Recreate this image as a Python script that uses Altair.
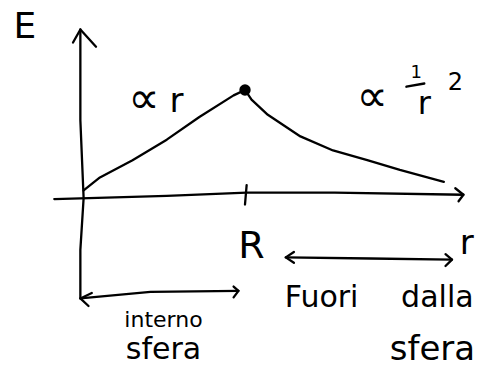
import altair as alt
import pandas as pd

# Field of a uniformly charged sphere: E grows like r inside, falls like 1/r^2 outside.
# r in units of R, E in units of E(R).
r_in = [0.01, 0.11, 0.31, 0.52, 0.72, 0.93, 1.00]
e_in = [0.07, 0.19, 0.35, 0.54, 0.75, 0.95, 1.00]
r_out = [1.00, 1.04, 1.14, 1.34, 1.54, 1.75, 1.95, 2.22]
e_out = [1.00, 0.91, 0.77, 0.57, 0.44, 0.35, 0.26, 0.15]

# hand-drawn guide strokes: (name, r list, E list)
strokes = [
    ("asse_E", [-0.01, -0.01, 0.01, -0.01, -0.01], [1.56, 0.72, 0.00, -0.48, -0.93]),
    ("punta_E", [-0.055, -0.01, 0.086], [1.44, 1.56, 1.40]),
    ("asse_r", [-0.17, 0.52, 1.01, 1.55, 2.34], [-0.01, 0.02, 0.05, 0.05, 0.03]),
    ("punta_r", [2.29, 2.34, 2.31], [0.09, 0.03, -0.03]),
    ("tacca_R", [1.01, 1.00], [0.12, -0.06]),
    ("freccia_int", [-0.01, 0.42, 0.96], [-0.93, -0.87, -0.86]),
    ("punta_int_sx", [0.06, -0.01, 0.04], [-0.88, -0.93, -1.00]),
    ("punta_int_dx", [0.93, 0.96, 0.93], [-0.82, -0.86, -0.92]),
    ("freccia_est", [1.25, 1.77, 2.27], [-0.55, -0.56, -0.57]),
    ("punta_est_sx", [1.30, 1.25, 1.30], [-0.50, -0.55, -0.60]),
    ("punta_est_dx", [2.23, 2.27, 2.23], [-0.52, -0.57, -0.63]),
    ("frazione", [1.99, 2.10], [1.03, 1.06]),
]

labels = ["E", "∝", "r", "∝", "1", "r", "2", "R", "r", "interno", "sfera", "Fuori", "dalla", "sfera"]
label_r = [-0.35, 0.38, 0.58, 1.78, 2.05, 2.10, 2.29, 1.04, 2.36, 0.50, 0.50, 1.47, 2.18, 2.15]
label_e = [1.58, 0.91, 0.89, 0.93, 1.16, 0.87, 1.06, -0.45, -0.43, -1.13, -1.41, -0.93, -0.93, -1.41]
label_size = [36, 44, 34, 44, 18, 32, 24, 38, 34, 22, 30, 30, 30, 34]

x_scale = alt.Scale(domain=[-0.503, 2.460], nice=False, zero=False)
y_scale = alt.Scale(domain=[-1.685, 1.833], nice=False, zero=False)
X = lambda: alt.X("r:Q", scale=x_scale, axis=None)
Y = lambda: alt.Y("E:Q", scale=y_scale, axis=None)

curve = pd.DataFrame({
    "r": r_in + r_out,
    "E": e_in + e_out,
    "k": list(range(len(r_in) + len(r_out))),
})

rows = []
for name, rs, es in strokes:
    for i, (a, b) in enumerate(zip(rs, es)):
        rows.append({"g": name, "r": a, "E": b, "k": i})
guide = pd.DataFrame(rows)

text_df = pd.DataFrame({"t": labels, "r": label_r, "E": label_e, "s": label_size})
peak = pd.DataFrame({"r": [1.0], "E": [1.0]})

line_curve = alt.Chart(curve).mark_line(color="black", strokeWidth=2.3, strokeCap="round", strokeJoin="round").encode(
    x=X(), y=Y(), order="k:Q"
)
line_guides = alt.Chart(guide).mark_line(color="black", strokeWidth=2.3, strokeCap="round", strokeJoin="round").encode(
    x=X(), y=Y(), detail="g:N", order="k:Q"
)
dot = alt.Chart(peak).mark_point(filled=True, color="black", size=130, opacity=1).encode(x=X(), y=Y())
texts = alt.Chart(text_df).mark_text(color="black", font="DejaVu Sans", fontWeight="normal",
                                     align="center", baseline="middle").encode(
    x=X(), y=Y(), text="t:N", size=alt.Size("s:Q", scale=None, legend=None)
)

chart = (
    alt.layer(line_guides, line_curve, dot, texts)
    .properties(width=483, height=380, padding=0, autosize=alt.AutoSizeParams(type="none"), background="white")
    .configure_view(stroke=None)
)

chart.save("out.html", embed_options={"renderer": "svg", "actions": False})
